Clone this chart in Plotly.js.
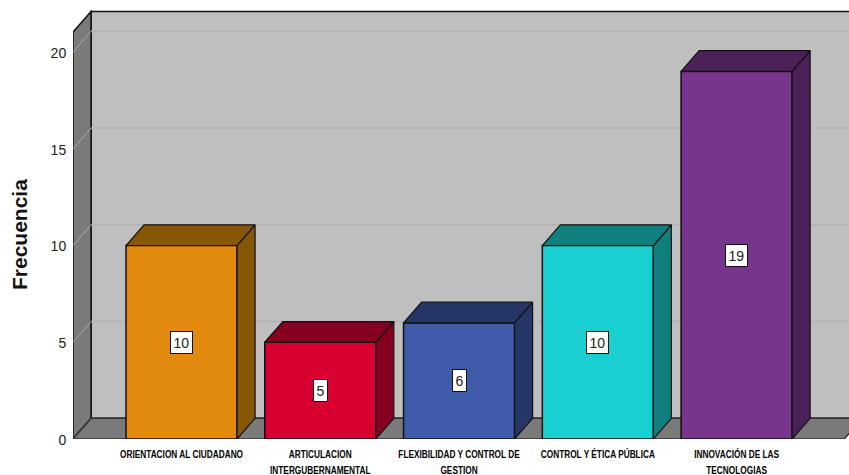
<!DOCTYPE html>
<html>
<head>
<meta charset="utf-8">
<script src="https://cdn.plot.ly/plotly-3.0.1.min.js"></script>
<style>html,body{margin:0;padding:0;background:#fff}#chart{width:849px;height:475px}</style>
</head>
<body>
<div id="chart"></div>
<script>
// Frequency per competency, drawn as pseudo-3D bars
const categories = ["ORIENTACION AL CIUDADANO", "ARTICULACION<br>INTERGUBERNAMENTAL", "FLEXIBILIDAD Y CONTROL DE<br>GESTION", "CONTROL Y ÉTICA PÚBLICA", "INNOVACIÓN DE LAS<br>TECNOLOGIAS"];
const values = [10, 5, 6, 10, 19];
const frontColors = ["#E28A0E", "#D80030", "#3F5BA9", "#1ACFCF", "#77368C"];
const darkColors = ["#865707", "#850020", "#263767", "#127F7F", "#4A2258"];
const yTicks = [0, 5, 10, 15, 20];

// Axis extents and the oblique depth offset, in axis units
const xRange = [-0.782, 4.81];
const yRange = [0, 22.69];
const barWidth = 0.8;
const depthX = 0.13;
const depthY = 1.07;
const wallTop = 21.03;
const floorRight = 4.776;
const edge = "#111";

const positions = categories.map((_, i) => i);

const traces = [{
  type: "bar", x: positions, y: values, width: barWidth,
  marker: {color: frontColors, line: {color: edge, width: 1.5}},
  hoverinfo: "skip", showlegend: false
}];

values.forEach((v, i) => {
  const l = i - barWidth / 2, r = i + barWidth / 2;
  // right-hand side face
  traces.push({
    type: "scatter", mode: "lines", fill: "toself", fillcolor: darkColors[i],
    x: [r, r + depthX, r + depthX, r, r],
    y: [0, depthY, v + depthY, v, 0],
    line: {color: edge, width: 1.2}, hoverinfo: "skip", showlegend: false
  });
  // top face
  traces.push({
    type: "scatter", mode: "lines", fill: "toself", fillcolor: darkColors[i],
    x: [l, l + depthX, r + depthX, r, l],
    y: [v, v + depthY, v + depthY, v, v],
    line: {color: edge, width: 1.2}, hoverinfo: "skip", showlegend: false
  });
});

const x0 = xRange[0];
const wallLine = {color: edge, width: 1.5};
const shapes = [
  // back wall
  {type: "rect", layer: "below", x0: x0 + depthX, x1: xRange[1] + 1, y0: depthY, y1: wallTop + depthY, fillcolor: "#BFBFBF", line: wallLine},
  // left wall
  {type: "path", layer: "below", path: `M ${x0} 0 L ${x0 + depthX} ${depthY} L ${x0 + depthX} ${wallTop + depthY} L ${x0} ${wallTop} Z`, fillcolor: "#7A7A7A", line: wallLine},
  // floor
  {type: "path", layer: "below", path: `M ${x0} 0 L ${x0 + depthX} ${depthY} L ${floorRight + depthX} ${depthY} L ${floorRight} 0 Z`, fillcolor: "#7A7A7A", line: {color: "#333", width: 1.5}}
];

// Gridlines wrap from the left wall onto the back wall
yTicks.filter(t => t > 0).forEach(t => {
  shapes.push({type: "line", layer: "below", x0: x0, x1: x0 + depthX, y0: t, y1: t + depthY, line: {color: "#A9A9A9", width: 1}});
  shapes.push({type: "line", layer: "below", x0: x0 + depthX, x1: xRange[1] + 1, y0: t + depthY, y1: t + depthY, line: {color: "#B3B3B3", width: 1.5}});
});

const annotations = values.map((v, i) => ({
  x: i, y: v / 2, text: String(v), showarrow: false,
  font: {family: "Liberation Sans, Arial, sans-serif", size: 14, color: "#222"},
  bgcolor: "#fff", bordercolor: "#111", borderwidth: 1, borderpad: 2.5
}));

// Axis title, placed by hand so it sits low beside the wall
annotations.push({
  xref: "paper", yref: "paper", x: -54 / 776, y: 204 / 439, xanchor: "center", yanchor: "middle",
  text: "<b>Frecuencia</b>", textangle: -90,
  showarrow: false, font: {family: "Liberation Sans, Arial, sans-serif", size: 21, color: "#111"}
});

const layout = {
  width: 849, height: 475,
  margin: {l: 73, r: 0, t: 0, b: 36, pad: 0},
  paper_bgcolor: "#fff", plot_bgcolor: "#fff",
  showlegend: false,
  xaxis: {
    range: xRange, tickmode: "array", tickvals: positions, ticktext: categories.map(c => c.split("<br>").map(s => `<b>${s}</b>`).join("<br>")),
    showgrid: false, zeroline: false, showline: false, ticks: "outside", ticklen: 2, tickcolor: "rgba(0,0,0,0)", tickangle: 0,
    tickfont: {family: "Liberation Sans, sans-serif", size: 12, color: "#000"}
  },
  yaxis: {
    range: yRange, tickmode: "array", tickvals: yTicks, showgrid: false, zeroline: false, showline: false,
    ticks: "outside", ticklen: 3, tickcolor: "rgba(0,0,0,0)",
    tickfont: {family: "Liberation Sans, Arial, sans-serif", size: 14, color: "#222"}
  },
  shapes, annotations
};

// The category labels use a condensed face, so squeeze them horizontally once drawn
const labelSqueeze = 0.69;
Plotly.newPlot("chart", traces, layout, {displayModeBar: false, staticPlot: true}).then(gd => {
  gd.querySelectorAll(".xtick text").forEach(t => {
    const x = parseFloat(t.getAttribute("x"));
    const y = parseFloat(t.getAttribute("y"));
    const base = t.getAttribute("transform") || "";
    t.setAttribute("transform", `${base} translate(${x} ${y + 2}) scale(${labelSqueeze} 0.97) translate(${-x} ${-y})`);
  });
  gd.querySelectorAll(".ytick text").forEach(t => {
    const base = t.getAttribute("transform") || "";
    t.setAttribute("transform", `${base} translate(0 1)`);
  });
});
</script>
</body>
</html>
